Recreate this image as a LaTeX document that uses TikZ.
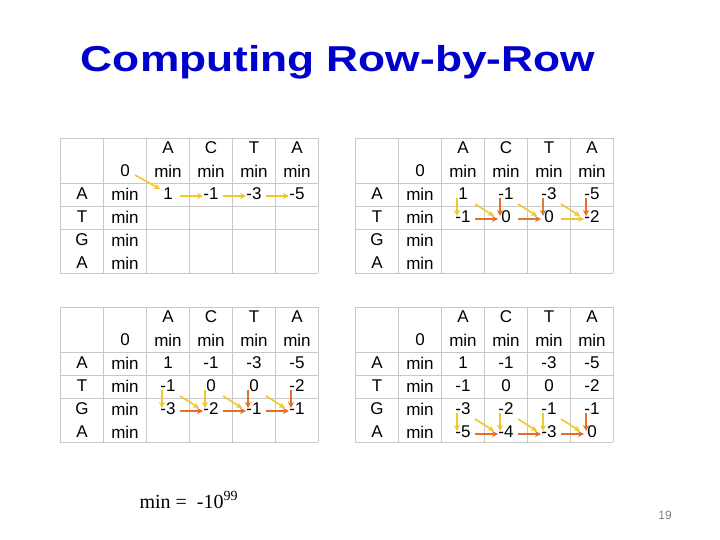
\documentclass[tikz,border=0pt]{standalone}
\usepackage{fontspec}
\setmainfont{Liberation Sans}
\newfontfamily\serif{Liberation Serif}
\usetikzlibrary{calc,arrows.meta}
\definecolor{ylw}{RGB}{240,200,40}
\definecolor{org}{RGB}{232,110,40}
\definecolor{brn}{RGB}{215,125,60}
\definecolor{ttl}{RGB}{0,0,204}
\newcommand\dptab[4]{%
  \foreach \k in {0,...,6} \draw[grid] (#1+43*\k,#2) -- (#1+43*\k,#2+135);
  \foreach \h in {0,45,68,91,135} \draw[grid] (#1,#2+\h) -- (#1+258,#2+\h);
  \foreach \L [count=\c] in {A,C,T,A} \node[cell] (#3-h-\c) at (#1+22+43*\c+43,#2+10) {\L};
  \node[cell] (#3-0-1) at (#1+22+43,#2+33) {0};
  \foreach \c in {2,...,5} \node[cell] (#3-0-\c) at (#1+22+43*\c,#2+33) {min};
  \foreach \L [count=\r] in {A,T,G,A} {
    \node[cell] (#3-l-\r) at (#1+22,#2+33+23*\r) {\L};
    \node[cell] (#3-\r-1) at (#1+22+43,#2+33+23*\r) {min};}
  \foreach \r/\vals in {#4} {
    \foreach \v [count=\cc] in \vals {
      \pgfmathtruncatemacro\c{\cc+1}
      \node[cell] (#3-\r-\c) at (#1+22+43*\c,#2+33+23*\r) {\v};}}
}
\newcommand\dg[3]{\draw[arr,#1] ($(#2)+(12,10)$) -- ($(#3)+(-12,-1)$);}
\newcommand\vt[3]{\draw[arr,#1] ($(#2)+(-6,4)$) -- ($(#3)+(-6,-1)$);}
\newcommand\hz[3]{\draw[arr,#1] ($(#2)+(12,2)$) -- ($(#3)+(-8,2)$);}
\tikzset{grid/.style={draw={rgb,255:red,200;green,200;blue,200},line width=0.8pt},
  cell/.style={font=\fontsize{17}{17}\selectfont,inner sep=0pt},
  arr/.style={line width=1.6pt,-{Stealth[length=6pt,width=6pt]}}}
\begin{document}
\begin{tikzpicture}[x=1pt,y=-1pt]
\useasboundingbox[fill=white] (0,0) rectangle (720,540);
\node[font=\fontsize{36}{36}\selectfont\bfseries,text=ttl,xscale=1.23] (title) at (338,62) {Computing Row-by-Row};
\dptab{60}{138}{a}{1/{1,-1,-3,-5}}
\dptab{355}{138}{b}{1/{1,-1,-3,-5},2/{-1,0,0,-2}}
\dptab{60}{307}{c}{1/{1,-1,-3,-5},2/{-1,0,0,-2},3/{-3,-2,-1,-1}}
\dptab{355}{307}{d}{1/{1,-1,-3,-5},2/{-1,0,0,-2},3/{-3,-2,-1,-1},4/{-5,-4,-3,0}}
% table a
\draw[arr,ylw] ($(a-0-1)+(10,4)$) -- ($(a-1-2)+(-8,-5)$);
\hz{ylw}{a-1-2}{a-1-3}\hz{ylw}{a-1-3}{a-1-4}\hz{ylw}{a-1-4}{a-1-5}
% table b
\vt{ylw}{b-1-2}{b-2-2}
\dg{ylw}{b-1-2}{b-2-3}\vt{org}{b-1-3}{b-2-3}\hz{org}{b-2-2}{b-2-3}
\dg{ylw}{b-1-3}{b-2-4}\vt{brn}{b-1-4}{b-2-4}\hz{brn}{b-2-3}{b-2-4}
\dg{ylw}{b-1-4}{b-2-5}\vt{org}{b-1-5}{b-2-5}\hz{ylw}{b-2-4}{b-2-5}
% table c
\vt{ylw}{c-2-2}{c-3-2}
\dg{ylw}{c-2-2}{c-3-3}\vt{ylw}{c-2-3}{c-3-3}\hz{org}{c-3-2}{c-3-3}
\dg{ylw}{c-2-3}{c-3-4}\vt{org}{c-2-4}{c-3-4}\hz{org}{c-3-3}{c-3-4}
\dg{ylw}{c-2-4}{c-3-5}\vt{org}{c-2-5}{c-3-5}\hz{org}{c-3-4}{c-3-5}
% table d
\vt{ylw}{d-3-2}{d-4-2}
\dg{ylw}{d-3-2}{d-4-3}\vt{ylw}{d-3-3}{d-4-3}\hz{org}{d-4-2}{d-4-3}
\dg{ylw}{d-3-3}{d-4-4}\vt{ylw}{d-3-4}{d-4-4}\hz{org}{d-4-3}{d-4-4}
\dg{ylw}{d-3-4}{d-4-5}\vt{org}{d-3-5}{d-4-5}\hz{org}{d-4-4}{d-4-5}
\node[font=\serif\fontsize{20}{20}\selectfont,anchor=west] (note) at (136,500) {min =\ \ -10\textsuperscript{99}};
\node[font=\fontsize{12}{12}\selectfont,text=gray] (pg) at (665,515) {19};
\end{tikzpicture}
\end{document}
